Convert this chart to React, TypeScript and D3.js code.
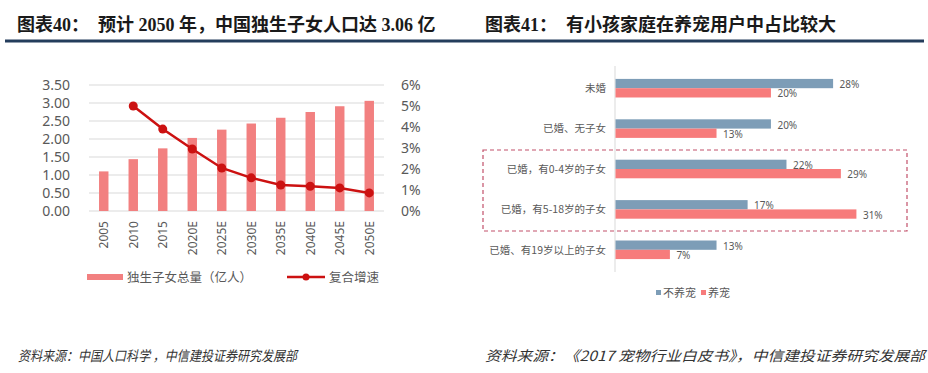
import React, { useRef, useEffect } from "react";
import * as d3 from "d3";

// Left chart: only-child population and compound growth
const years = ["2005", "2010", "2015", "2020E", "2025E", "2030E", "2035E", "2040E", "2045E", "2050E"];
const totals = [1.1, 1.44, 1.74, 2.03, 2.26, 2.43, 2.59, 2.75, 2.91, 3.06];
const growth = [null, 5.0, 3.9, 2.95, 2.05, 1.58, 1.24, 1.18, 1.1, 0.86];
const leftTicks = [0, 0.5, 1, 1.5, 2, 2.5, 3, 3.5];
const rightTicks = [0, 1, 2, 3, 4, 5, 6];

// Right chart: share of pet owners by family type
const groups = ["未婚", "已婚、无子女", "已婚，有0-4岁的子女", "已婚，有5-18岁的子女", "已婚、有19岁以上的子女"];
const series = ["不养宠", "养宠"];
const noPet = [28, 20, 22, 17, 13];
const pet = [20, 13, 29, 31, 7];

const BAR = "#f28080";
const LINE = "#cc1111";
const BLUE = "#7d9db7";
const RED = "#f77b7b";
const GRAY = "#595959";

export default function App() {
  const svgRef = useRef<SVGSVGElement | null>(null);

  useEffect(() => {
    document.body.style.margin = "0";
    const svg = d3.select(svgRef.current);
    svg.selectAll("*").remove();

    const cjk = "'Noto Sans CJK SC', 'Noto Sans', sans-serif";
    const titleFont = "'Liberation Serif', 'Noto Sans CJK SC', serif";

    // header titles + rule
    svg.append("text").attr("x", 17).attr("y", 31).attr("font-family", titleFont)
      .attr("font-weight", 700).attr("font-size", 18).attr("fill", "#1a1a1a").text("图表40：");
    svg.append("text").attr("x", 98).attr("y", 31).attr("font-family", titleFont)
      .attr("font-weight", 700).attr("font-size", 18).attr("fill", "#1a1a1a")
      .text("预计 2050 年，中国独生子女人口达 3.06 亿");
    svg.append("text").attr("x", 485).attr("y", 31).attr("font-family", titleFont)
      .attr("font-weight", 700).attr("font-size", 18).attr("fill", "#1a1a1a").text("图表41：");
    svg.append("text").attr("x", 566).attr("y", 31).attr("font-family", titleFont)
      .attr("font-weight", 700).attr("font-size", 18).attr("fill", "#1a1a1a")
      .text("有小孩家庭在养宠用户中占比较大");
    svg.append("rect").attr("x", 5).attr("y", 39.5).attr("width", 919).attr("height", 3)
      .attr("fill", "#243d5c");

    // ---------- left chart ----------
    const x = d3.scaleBand().domain(years).range([89, 384]).paddingInner(0.68).paddingOuter(0.34);
    const y = d3.scaleLinear().domain([0, 3.5]).range([211, 85]);
    const y2 = d3.scaleLinear().domain([0, 6]).range([211, 85]);

    const L = svg.append("g");
    L.selectAll(".grid").data(leftTicks).enter().append("line")
      .attr("x1", 89).attr("x2", 384)
      .attr("y1", d => y(d)).attr("y2", d => y(d))
      .attr("stroke", "#d9d9d9").attr("stroke-width", 1);

    L.selectAll(".lt").data(leftTicks).enter().append("text")
      .attr("x", 70).attr("y", d => y(d)).attr("dy", "0.36em")
      .attr("text-anchor", "end").attr("font-family", "'Noto Sans', sans-serif")
      .attr("font-size", 14).attr("fill", GRAY).text(d => d.toFixed(2));

    L.selectAll(".rt").data(rightTicks).enter().append("text")
      .attr("x", 401).attr("y", d => y2(d)).attr("dy", "0.36em")
      .attr("font-family", "'Noto Sans', sans-serif")
      .attr("font-size", 14).attr("fill", GRAY).text(d => `${d}%`);

    L.selectAll(".bar").data(years).enter().append("rect")
      .attr("x", d => x(d) as number).attr("width", x.bandwidth())
      .attr("y", (d, i) => y(totals[i])).attr("height", (d, i) => y(0) - y(totals[i]))
      .attr("fill", BAR);

    L.selectAll(".xl").data(years).enter().append("text")
      .attr("transform", d => `translate(${(x(d) as number) + x.bandwidth() / 2},221) rotate(-90)`)
      .attr("dy", "0.36em").attr("text-anchor", "end")
      .attr("font-family", "'Noto Sans', sans-serif").attr("font-size", 12).attr("fill", GRAY)
      .text(d => d);

    const pts = years.map((d, i) => ({ year: d, v: growth[i] })).filter(p => p.v !== null) as { year: string; v: number }[];
    const line = d3.line<{ year: string; v: number }>()
      .x(d => (x(d.year) as number) + x.bandwidth() / 2)
      .y(d => y2(d.v));
    L.append("path").datum(pts).attr("d", line).attr("fill", "none")
      .attr("stroke", LINE).attr("stroke-width", 2.5);
    L.selectAll(".dot").data(pts).enter().append("circle")
      .attr("cx", d => (x(d.year) as number) + x.bandwidth() / 2)
      .attr("cy", d => y2(d.v)).attr("r", 4.5).attr("fill", LINE);

    // legend
    L.append("rect").attr("x", 87).attr("y", 274).attr("width", 36).attr("height", 6).attr("fill", BAR);
    L.append("text").attr("x", 127).attr("y", 277).attr("dy", "0.36em").attr("font-family", cjk)
      .attr("font-size", 12.5).attr("fill", GRAY).text("独生子女总量（亿人）");
    L.append("line").attr("x1", 287).attr("x2", 325).attr("y1", 277).attr("y2", 277)
      .attr("stroke", LINE).attr("stroke-width", 2.5);
    L.append("circle").attr("cx", 306).attr("cy", 277).attr("r", 3.5).attr("fill", LINE);
    L.append("text").attr("x", 329).attr("y", 277).attr("dy", "0.36em").attr("font-family", cjk)
      .attr("font-size", 12.5).attr("fill", GRAY).text("复合增速");

    // ---------- right chart ----------
    const gy = d3.scaleBand().domain(groups).range([68, 270]).paddingInner(0.54).paddingOuter(0.27);
    const sy = d3.scaleBand().domain(series).range([0, gy.bandwidth()]);
    const gx = d3.scaleLinear().domain([0, 35]).range([615, 887]);
    const vals = [noPet, pet];
    const cols = [BLUE, RED];

    const R = svg.append("g");
    R.append("line").attr("x1", 615).attr("x2", 615).attr("y1", 66).attr("y2", 272)
      .attr("stroke", "#d9d9d9").attr("stroke-width", 1);

    series.forEach((s, si) => {
      R.selectAll(`.b${si}`).data(groups).enter().append("rect")
        .attr("x", gx(0) + 0.5).attr("y", d => (gy(d) as number) + (sy(s) as number))
        .attr("width", (d, i) => gx(vals[si][i]) - gx(0)).attr("height", sy.bandwidth())
        .attr("fill", cols[si]);
      R.selectAll(`.v${si}`).data(groups).enter().append("text")
        .attr("x", (d, i) => gx(vals[si][i]) + 7)
        .attr("y", d => (gy(d) as number) + (sy(s) as number) + sy.bandwidth() / 2 + 1)
        .attr("dy", "0.36em").attr("font-family", "'Noto Sans', sans-serif")
        .attr("font-size", 10).attr("fill", GRAY).text((d, i) => `${vals[si][i]}%`);
    });

    R.selectAll(".gl").data(groups).enter().append("text")
      .attr("x", 606).attr("y", d => (gy(d) as number) + gy.bandwidth() / 2)
      .attr("dy", "0.36em").attr("text-anchor", "end").attr("font-family", cjk)
      .attr("font-size", 10.5).attr("fill", GRAY).text(d => d);

    // highlight box around families with young children
    R.append("rect").attr("x", 483).attr("y", 150).attr("width", 424).attr("height", 81)
      .attr("fill", "none").attr("stroke", "#c2506a").attr("stroke-width", 1.2)
      .attr("stroke-dasharray", "4,3");

    // legend
    const lg = [{ x: 656, c: BLUE, t: "不养宠" }, { x: 701, c: RED, t: "养宠" }];
    lg.forEach(l => {
      R.append("rect").attr("x", l.x).attr("y", 290).attr("width", 5).attr("height", 5).attr("fill", l.c);
      R.append("text").attr("x", l.x + 4 + 3).attr("y", 293).attr("dy", "0.36em").attr("font-family", cjk)
        .attr("font-size", 11).attr("fill", GRAY).text(l.t);
    });

    // sources
    svg.append("text").attr("x", 18).attr("y", 361).attr("font-family", cjk).attr("font-style", "italic")
      .attr("font-size", 14).attr("fill", "#333").attr("textLength", 279)
      .attr("lengthAdjust", "spacingAndGlyphs").text("资料来源：中国人口科学 ，中信建投证券研究发展部");
    svg.append("text").attr("x", 485).attr("y", 361).attr("font-family", cjk).attr("font-style", "italic")
      .attr("font-size", 14).attr("fill", "#333").attr("textLength", 440)
      .attr("lengthAdjust", "spacingAndGlyphs").text("资料来源：《2017 宠物行业白皮书》，中信建投证券研究发展部");
  }, []);

  return (
    <div style={{ position: "absolute", left: 0, top: 0, background: "#fff" }}>
      <svg ref={svgRef} width={928} height={373} style={{ display: "block" }}></svg>
    </div>
  );
}
